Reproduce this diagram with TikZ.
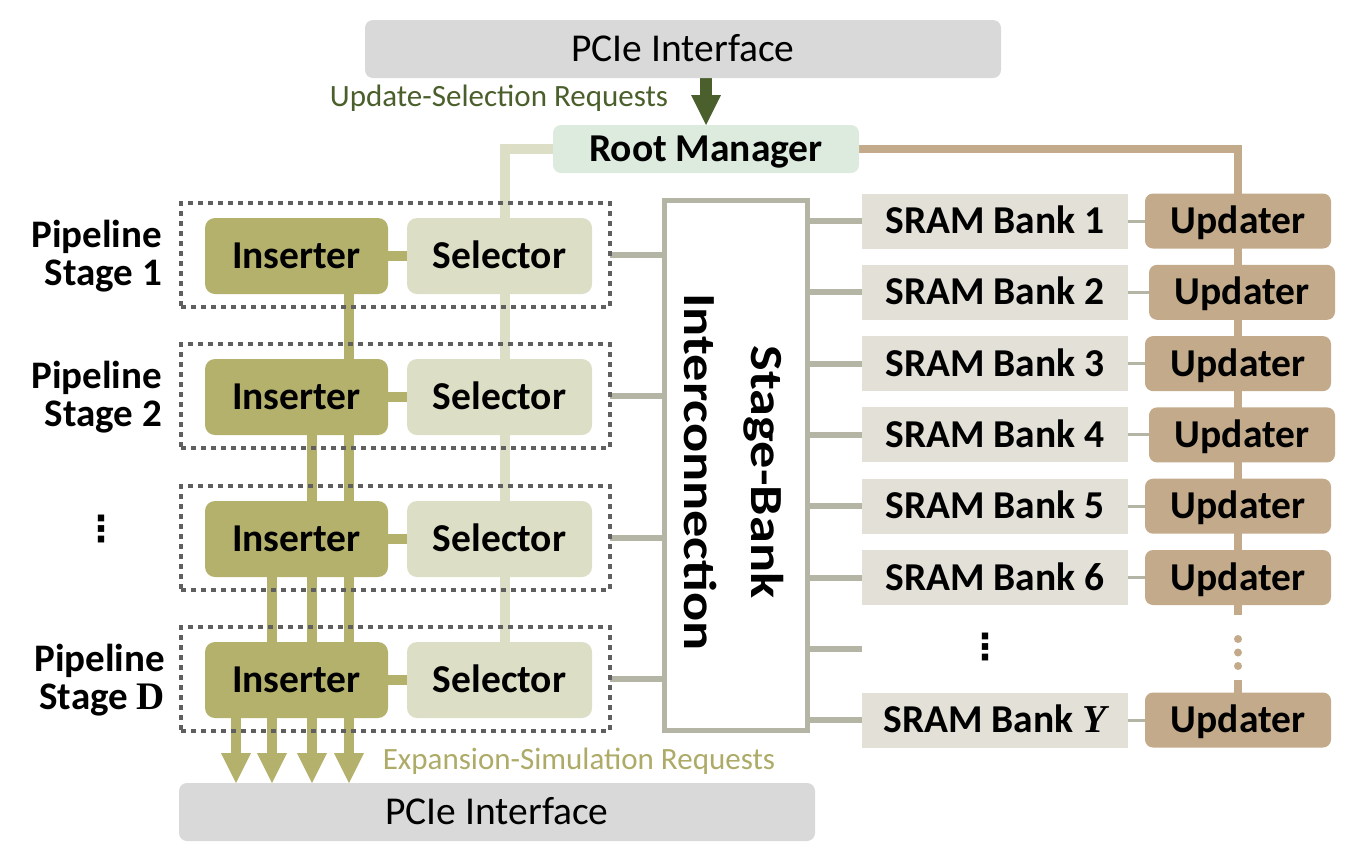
\documentclass[tikz,border=0pt]{standalone}
\usepackage{fontspec}
\setmainfont{Carlito}
\newfontfamily\serifb{Liberation Serif}
\newfontfamily\dejavu{DejaVu Sans}
\usepackage{graphicx}
\usetikzlibrary{arrows.meta,backgrounds}
\definecolor{pcieC}{HTML}{D9D9D9}
\definecolor{rmC}{HTML}{DDEBDF}
\definecolor{insC}{HTML}{B4B16D}
\definecolor{selC}{HTML}{DDDEC6}
\definecolor{sramC}{HTML}{E3E0D8}
\definecolor{updC}{HTML}{C3AA8A}
\definecolor{grayL}{HTML}{B5B5A6}
\definecolor{dotC}{HTML}{5F5F5F}
\definecolor{dgreen}{HTML}{4A5F2B}
\definecolor{oliveT}{HTML}{ADAB67}
\begin{document}
\begin{tikzpicture}[x=1pt,y=-1pt,
  every node/.style={inner sep=0pt,outer sep=0pt},
  capc/.style={text height=25.3pt,text depth=0pt},
  big/.style={font=\fontsize{39.5}{44}\selectfont,capc},
  bigb/.style={font=\fontsize{39.5}{44}\selectfont\bfseries,capc},
  pcie/.style={big,fill=pcieC,rounded corners=8pt,minimum width=636pt,minimum height=58pt},
  rootbox/.style={bigb,fill=rmC,rounded corners=8pt,minimum width=306pt,minimum height=48pt},
  insbox/.style={bigb,fill=insC,rounded corners=10pt,minimum width=183pt,minimum height=76pt},
  selbox/.style={bigb,fill=selC,rounded corners=10pt,minimum width=185pt,minimum height=76pt},
  stagebox/.style={draw=dotC,line width=4pt,dash pattern=on 5pt off 5pt,minimum width=429pt,minimum height=104pt},
  srambox/.style={bigb,fill=sramC,minimum width=266pt,minimum height=55pt},
  updbox/.style={bigb,fill=updC,rounded corners=8pt,minimum width=186pt,minimum height=55pt},
  icbox/.style={draw=grayL,line width=5pt,fill=white,minimum width=143pt,minimum height=530pt},
  oline/.style={draw=insC,line width=10pt},
  sline/.style={draw=selC,line width=10pt},
  bline/.style={draw=updC,line width=8pt},
  gline/.style={draw=grayL,line width=6pt},
  thinline/.style={draw=grayL,line width=3pt},
  oarrow/.style={oline,-{Triangle[width=30pt,length=30pt,line width=0pt]}},
  garrow/.style={draw=dgreen,line width=12pt,-{Triangle[width=30pt,length=30pt,line width=0pt]}},
  stagelabel/.style={font=\fontsize{39}{38}\selectfont\bfseries,align=right,anchor=east},
  dotsym/.style={font=\fontsize{36}{40}\selectfont\dejavu\bfseries},
  reqtext/.style={font=\fontsize{31}{36}\selectfont,text height=19.8pt,text depth=0pt},
]
\useasboundingbox (0,0) rectangle (1346,852);

% top
\node[pcie] (pciet) at (683,49) {PCIe Interface};
\node[rootbox] (rm) at (706,149) {Root Manager};
\node[reqtext,text=dgreen] (usr) at (499,97) {Update-Selection Requests};

% stages
\node[stagebox] (st1) at (395.5,255) {};
\node[insbox] (ins1) at (296.5,256) {Inserter};
\node[selbox] (sel1) at (499.5,256) {Selector};
\node[stagebox] (st2) at (395.5,396) {};
\node[insbox] (ins2) at (296.5,397) {Inserter};
\node[selbox] (sel2) at (499.5,397) {Selector};
\node[stagebox] (st3) at (395.5,538) {};
\node[insbox] (ins3) at (296.5,539) {Inserter};
\node[selbox] (sel3) at (499.5,539) {Selector};
\node[stagebox] (st4) at (395.5,679) {};
\node[insbox] (ins4) at (296.5,680) {Inserter};
\node[selbox] (sel4) at (499.5,680) {Selector};

\node[stagelabel] (lab1) at (162,256) {Pipeline\\Stage 1};
\node[stagelabel] (lab2) at (162,397) {Pipeline\\Stage 2};
\node[dotsym] (vd1) at (101,529) {⋮};
\node[stagelabel] (lab4) at (165,680) {Pipeline\\Stage {\serifb\bfseries D}};

% interconnection
\node[icbox] (ic) at (736,465.5) {};
\node[rotate=-90] (ictext) at (731,472) {\scalebox{1.18}[1]{\fontsize{46}{67}\selectfont\bfseries\begin{tabular}{@{}c@{}}Stage-Bank\\Interconnection\end{tabular}}};

% banks
\node[srambox] (s1) at (995,221) {SRAM Bank 1};
\node[srambox] (s2) at (995,292.3) {SRAM Bank 2};
\node[srambox] (s3) at (995,363.6) {SRAM Bank 3};
\node[srambox] (s4) at (995,434.9) {SRAM Bank 4};
\node[srambox] (s5) at (995,506.2) {SRAM Bank 5};
\node[srambox] (s6) at (995,577.5) {SRAM Bank 6};
\node[dotsym] (vd2) at (985,647) {⋮};
\node[srambox] (sY) at (995,720) {SRAM Bank {\serifb\bfseries\itshape Y}};
\coordinate (sdots) at (862,648.8);

\node[updbox] (u1) at (1238,221) {Updater};
\node[updbox] (u2) at (1242,292.3) {Updater};
\node[updbox] (u3) at (1238,363.6) {Updater};
\node[updbox] (u4) at (1242,434.9) {Updater};
\node[updbox] (u5) at (1238,506.2) {Updater};
\node[updbox] (u6) at (1238,577.5) {Updater};
\node[updbox] (uY) at (1238,720) {Updater};

% bottom
\node[pcie] (pcieb) at (497,812) {PCIe Interface};
\node[reqtext,text=oliveT] (esr) at (579,760) {Expansion-Simulation Requests};

\coordinate (xa) at (236,0);
\coordinate (xb) at (272,0);
\coordinate (xc) at (312,0);
\coordinate (xd) at (349,0);
\coordinate (xs) at (505,0);

\begin{pgfonlayer}{background}
\draw[garrow] (pciet.south -| rm.north) -- (rm.north);
\draw[sline] (rm.west) -| (sel4.north -| xs);
\draw[bline] (rm.east) -| (u6.south);
\draw[bline,dash pattern=on 10pt off 65pt on 13pt] (u6.south) -- (uY.north);
\draw[bline,line cap=round,dash pattern=on 0pt off 13.5pt on 0pt off 13.5pt on 0pt off 61pt,dash phase=54pt] (u6.south) -- (uY.north);

\draw[oline] (ins1.east) -- (sel1.west);
\draw[oline] (ins2.east) -- (sel2.west);
\draw[oline] (ins3.east) -- (sel3.west);
\draw[oline] (ins4.east) -- (sel4.west);

\draw[oline] (ins1.south -| xd) -- (ins2.north -| xd);
\draw[oline] (ins2.south -| xc) -- (ins3.north -| xc);
\draw[oline] (ins2.south -| xd) -- (ins3.north -| xd);
\draw[oline] (ins3.south -| xb) -- (ins4.north -| xb);
\draw[oline] (ins3.south -| xc) -- (ins4.north -| xc);
\draw[oline] (ins3.south -| xd) -- (ins4.north -| xd);
\draw[oarrow] (ins4.south -| xa) -- (pcieb.north -| xa);
\draw[oarrow] (ins4.south -| xb) -- (pcieb.north -| xb);
\draw[oarrow] (ins4.south -| xc) -- (pcieb.north -| xc);
\draw[oarrow] (ins4.south -| xd) -- (pcieb.north -| xd);

\draw[gline] (st1.east) -- (ic.west |- st1.east);
\draw[gline] (st2.east) -- (ic.west |- st2.east);
\draw[gline] (st3.east) -- (ic.west |- st3.east);
\draw[gline] (st4.east) -- (ic.west |- st4.east);

\draw[gline] (ic.east |- s1.west) -- (s1.west);
\draw[gline] (ic.east |- s2.west) -- (s2.west);
\draw[gline] (ic.east |- s3.west) -- (s3.west);
\draw[gline] (ic.east |- s4.west) -- (s4.west);
\draw[gline] (ic.east |- s5.west) -- (s5.west);
\draw[gline] (ic.east |- s6.west) -- (s6.west);
\draw[gline] (ic.east |- sdots) -- (sdots);
\draw[gline] (ic.east |- sY.west) -- (sY.west);

\draw[thinline] (s1.east) -- (u1.west);
\draw[thinline] (s2.east) -- (u2.west);
\draw[thinline] (s3.east) -- (u3.west);
\draw[thinline] (s4.east) -- (u4.west);
\draw[thinline] (s5.east) -- (u5.west);
\draw[thinline] (s6.east) -- (u6.west);
\draw[thinline] (sY.east) -- (uY.west);
\end{pgfonlayer}
\end{tikzpicture}
\end{document}
